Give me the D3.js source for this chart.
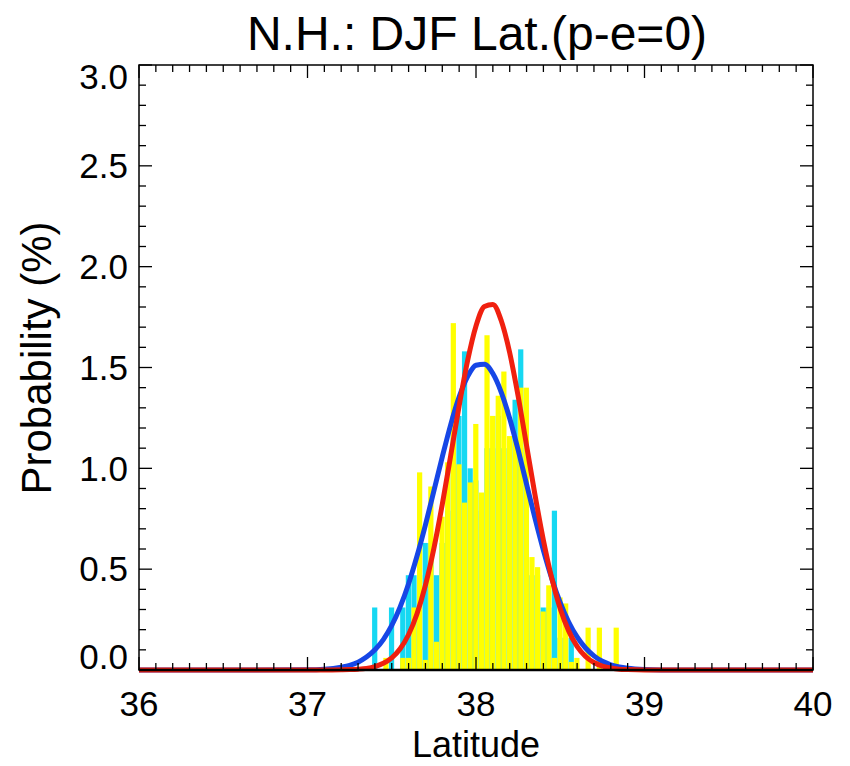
<!DOCTYPE html>
<html>
<head>
<meta charset="utf-8">
<script src="https://cdn.jsdelivr.net/npm/d3@7"></script>
<style>
  body { margin: 0; background: #fff; }
  text { font-family: "Liberation Sans", Arial, sans-serif; fill: #000; }
</style>
</head>
<body>
<div id="chart"></div>
<script>
// Histogram bins (latitude, 1/30 degree wide)
const binStart = 37.3833;
const binWidth = 1 / 30;
// Probability (%) per bin, yellow histogram
const yellowVals = [
  0, 0, 0.06, 0, 0, 0.06, 0.06, 0.31, 0.98, 0.05,
  0.91, 0.14, 0.76, 1.03, 1.72, 1.02, 0.83, 0.93, 1.22, 0.88,
  1.66, 1.26, 1.36, 1.48, 1.16, 1.14, 1.40, 1.40, 0.56, 0.51,
  0.29, 0.42, 0.06, 0.36, 0.33, 0.04, 0.06, 0, 0.21, 0,
  0.21, 0, 0, 0.21
];
// Probability (%) per bin, cyan histogram
const cyanVals = [
  0.31, 0, 0, 0.31, 0, 0.31, 0.47, 0.47, 0.47, 0.63,
  0.63, 0.47, 0.63, 0.79, 1.26, 1.26, 1.58, 1.0, 0.94, 0.79,
  1.1, 1.1, 1.26, 1.1, 0.94, 1.34, 1.59, 1.1, 0.47, 0.47,
  0.31, 0.31, 0.79, 0.16, 0.16, 0.16, 0, 0, 0, 0,
  0, 0, 0, 0
];

// Fitted curves, sampled latitude / probability
const curveLat = [
  36, 37.0, 37.1, 37.2, 37.25, 37.3, 37.35, 37.4, 37.45, 37.5,
  37.55, 37.6, 37.65, 37.7, 37.75, 37.8, 37.85, 37.9, 37.95, 38.0,
  38.05, 38.1, 38.15, 38.2, 38.25, 38.3, 38.35, 38.4, 38.45, 38.5,
  38.55, 38.6, 38.65, 38.7, 38.75, 38.8, 38.85, 38.9, 39.0, 39.1, 40
];
const blueVals = [
  0, 0.001, 0.004, 0.014, 0.023, 0.039, 0.064, 0.100, 0.151, 0.221,
  0.313, 0.428, 0.565, 0.720, 0.888, 1.057, 1.217, 1.354, 1.455, 1.511,
  1.516, 1.470, 1.377, 1.247, 1.091, 0.922, 0.753, 0.594, 0.453, 0.334,
  0.238, 0.164, 0.109, 0.070, 0.043, 0.026, 0.015, 0.0085, 0.0024, 0.0006, 0
];
const redVals = [
  0, 0, 0, 0.001, 0.002, 0.004, 0.008, 0.017, 0.033, 0.060,
  0.105, 0.176, 0.279, 0.421, 0.603, 0.822, 1.064, 1.310, 1.533, 1.706,
  1.803, 1.813, 1.732, 1.573, 1.358, 1.114, 0.869, 0.644, 0.454, 0.304,
  0.194, 0.117, 0.067, 0.037, 0.019, 0.010, 0.004, 0.002, 0, 0, 0
];

// Axis ticks
const xTicks = [36, 37, 38, 39, 40];
const yTicks = [0.0, 0.5, 1.0, 1.5, 2.0, 2.5, 3.0];

const width = 850;
const height = 766;
const plot = { left: 139, right: 813, top: 65, bottom: 670 };

const svg = d3
  .select("#chart")
  .append("svg")
  .attr("width", width)
  .attr("height", height);

const x = d3.scaleLinear().domain([36, 40]).range([plot.left, plot.right]);
const y = d3.scaleLinear().domain([0, 3]).range([plot.bottom, plot.top]);

const bins = yellowVals.map((v, i) => ({
  lat: binStart + i * binWidth,
  yellow: v,
  cyan: cyanVals[i],
}));
const barW = x(binStart + binWidth) - x(binStart) - 0.4;

// Cyan bars behind, yellow bars in front
svg
  .append("g")
  .selectAll("rect")
  .data(bins.filter((d) => d.cyan > 0))
  .join("rect")
  .attr("x", (d) => x(d.lat))
  .attr("y", (d) => y(d.cyan))
  .attr("width", barW)
  .attr("height", (d) => y(0) - y(d.cyan))
  .attr("fill", "#16d8f2");

svg
  .append("g")
  .selectAll("rect")
  .data(bins.filter((d) => d.yellow > 0))
  .join("rect")
  .attr("x", (d) => x(d.lat))
  .attr("y", (d) => y(d.yellow))
  .attr("width", barW)
  .attr("height", (d) => y(0) - y(d.yellow))
  .attr("fill", "#ffff00");

// Fitted curves
const line = d3
  .line()
  .x((d) => x(d[0]))
  .y((d) => y(d[1]))
  .curve(d3.curveMonotoneX);

svg
  .append("path")
  .datum(curveLat.map((l, i) => [l, blueVals[i]]))
  .attr("d", line)
  .attr("fill", "none")
  .attr("stroke", "#1646e6")
  .attr("stroke-width", 5);

svg
  .append("path")
  .datum(curveLat.map((l, i) => [l, redVals[i]]))
  .attr("d", line)
  .attr("fill", "none")
  .attr("stroke", "#f0200f")
  .attr("stroke-width", 5);

// Frame and ticks (IDL style, inward, on all sides)
const frame = svg.append("g").attr("stroke", "#000").attr("fill", "none");

frame
  .append("rect")
  .attr("x", plot.left)
  .attr("y", plot.top)
  .attr("width", plot.right - plot.left)
  .attr("height", plot.bottom - plot.top)
  .attr("stroke-width", 1.5);

frame
  .append("line")
  .attr("x1", plot.left)
  .attr("x2", plot.right)
  .attr("y1", plot.bottom)
  .attr("y2", plot.bottom)
  .attr("stroke-width", 2.5);

const xMinor = d3.range(0, 41).map((i) => 36 + i * 0.1);
xMinor.forEach((v, i) => {
  const len = i % 10 === 0 ? 13 : 7;
  const px = x(v);
  frame.append("line").attr("x1", px).attr("x2", px)
    .attr("y1", plot.bottom).attr("y2", plot.bottom - len).attr("stroke-width", 1.3);
  frame.append("line").attr("x1", px).attr("x2", px)
    .attr("y1", plot.top).attr("y2", plot.top + len).attr("stroke-width", 1.3);
});

const yMinor = d3.range(0, 31).map((i) => i * 0.1);
yMinor.forEach((v, i) => {
  const len = i % 5 === 0 ? 13 : 7;
  const py = y(v);
  frame.append("line").attr("x1", plot.left).attr("x2", plot.left + len)
    .attr("y1", py).attr("y2", py).attr("stroke-width", 1.3);
  frame.append("line").attr("x1", plot.right).attr("x2", plot.right - len)
    .attr("y1", py).attr("y2", py).attr("stroke-width", 1.3);
});

// Tick labels
svg
  .append("g")
  .selectAll("text")
  .data(xTicks)
  .join("text")
  .attr("x", (d) => x(d))
  .attr("y", 716)
  .attr("text-anchor", "middle")
  .attr("font-size", 35)
  .text((d) => d);

svg
  .append("g")
  .selectAll("text")
  .data(yTicks)
  .join("text")
  .attr("x", 128)
  .attr("y", (d) => Math.min(Math.max(y(d), plot.top + 12), plot.bottom - 13))
  .attr("dy", "0.35em")
  .attr("text-anchor", "end")
  .attr("font-size", 35)
  .text((d) => d.toFixed(1));

// Titles
svg
  .append("text")
  .attr("x", 477)
  .attr("y", 50)
  .attr("text-anchor", "middle")
  .attr("font-size", 48)
  .text("N.H.: DJF Lat.(p-e=0)");

svg
  .append("text")
  .attr("x", 476)
  .attr("y", 757)
  .attr("text-anchor", "middle")
  .attr("font-size", 36)
  .text("Latitude");

svg
  .append("text")
  .attr("transform", "translate(51,358) rotate(-90)")
  .attr("text-anchor", "middle")
  .attr("font-size", 42)
  .text("Probability (%)");
</script>
</body>
</html>
